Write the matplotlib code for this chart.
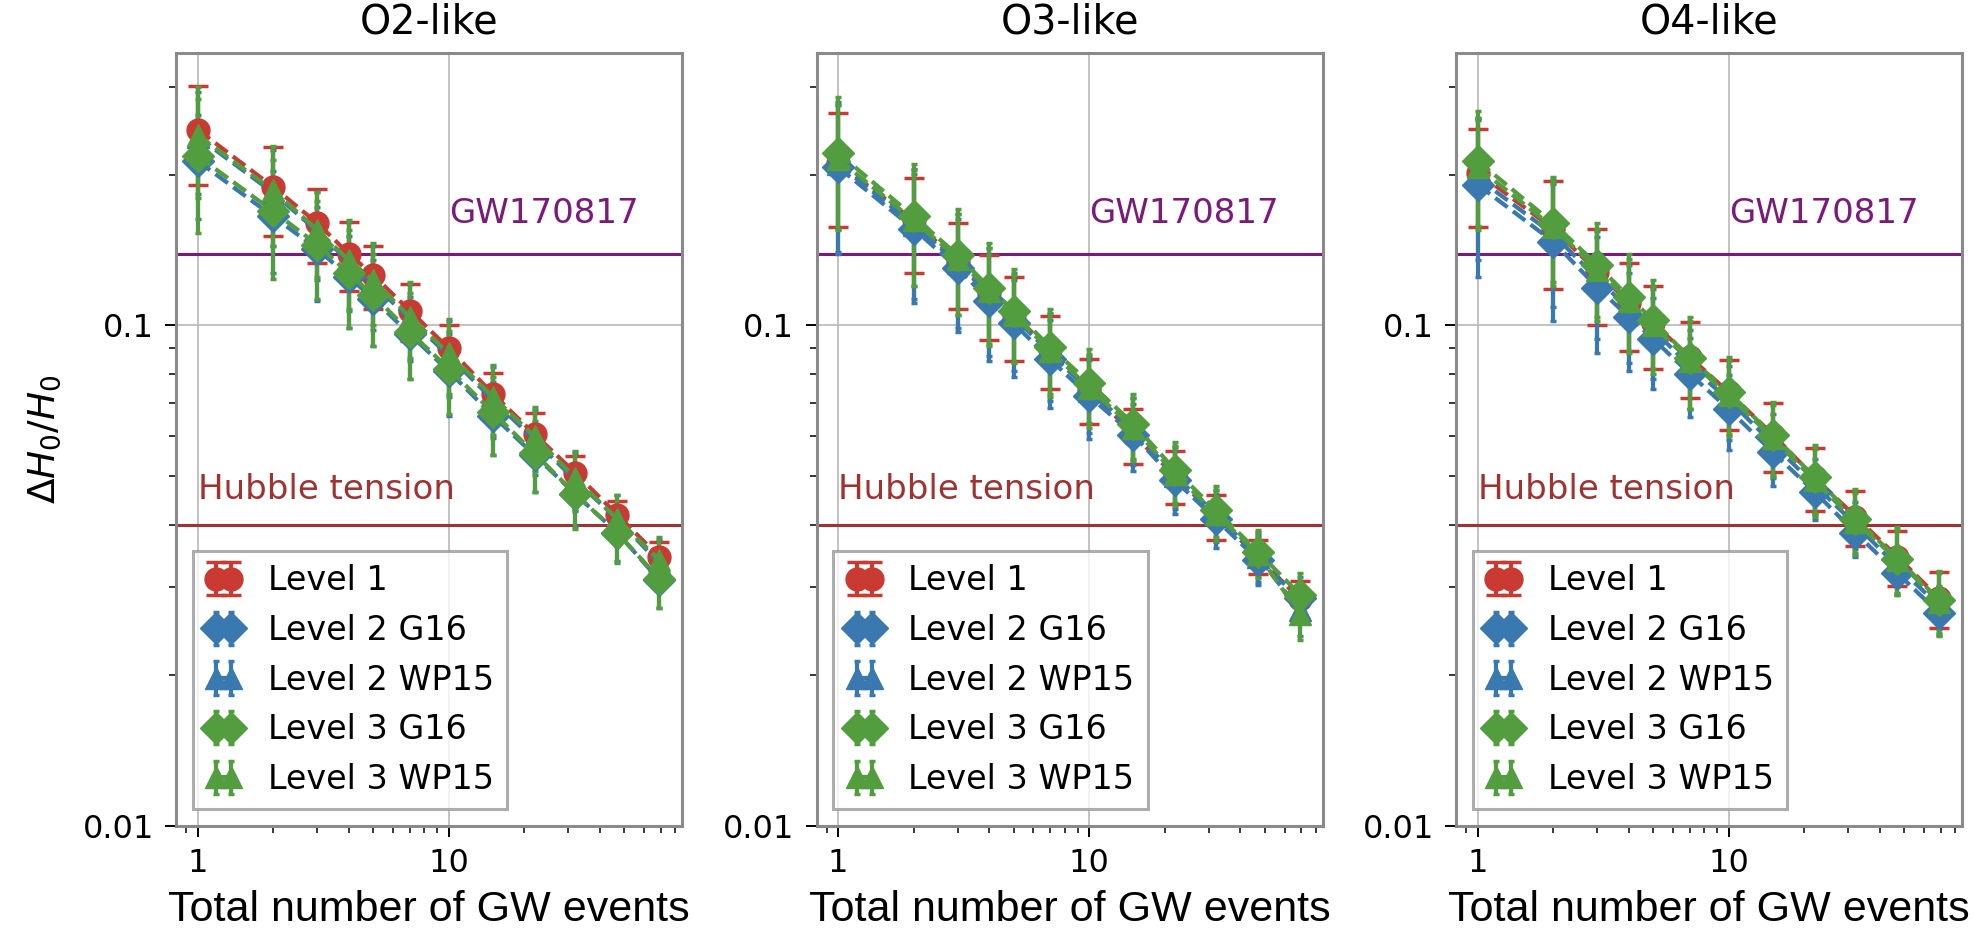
# H0 precision vs number of GW events, three observing-run scenarios
import matplotlib
matplotlib.use("Agg")
import matplotlib.pyplot as plt
from matplotlib.ticker import FormatStrFormatter, NullFormatter

# --- data ---
n_events = [1, 2, 3, 4, 5, 7, 10, 15, 22, 32, 47, 69]

# O2-like
o2_l1 = [0.246, 0.189, 0.160, 0.139, 0.126, 0.107, 0.090, 0.073, 0.0606, 0.0507, 0.0418, 0.0345]
o2_l2_g16 = [0.213, 0.165, 0.142, 0.125, 0.113, 0.096, 0.081, 0.066, 0.055, 0.046, 0.0385, 0.031]
o2_l2_wp15 = [0.238, 0.184, 0.154, 0.134, 0.121, 0.103, 0.087, 0.071, 0.059, 0.049, 0.041, 0.0335]
o2_l3_g16 = [0.218, 0.169, 0.145, 0.127, 0.115, 0.097, 0.082, 0.067, 0.0555, 0.046, 0.0385, 0.0312]
o2_l3_wp15 = [0.240, 0.186, 0.155, 0.135, 0.123, 0.104, 0.088, 0.072, 0.060, 0.0495, 0.041, 0.034]
o2_l1_err = [0.055, 0.038, 0.027, 0.022, 0.018, 0.014, 0.010, 0.0075, 0.0062, 0.0042, 0.0027, 0.0024]
o2_l2_g16_err = [0.050, 0.038, 0.030, 0.026, 0.022, 0.018, 0.015, 0.011, 0.0085, 0.0063, 0.0047, 0.0037]
o2_l2_wp15_err = [0.055, 0.040, 0.031, 0.027, 0.023, 0.018, 0.015, 0.0115, 0.0088, 0.0065, 0.0048, 0.0038]
o2_l3_g16_err = [0.065, 0.045, 0.032, 0.028, 0.024, 0.019, 0.0155, 0.012, 0.009, 0.0068, 0.005, 0.004]
o2_l3_wp15_err = [0.060, 0.042, 0.030, 0.027, 0.023, 0.018, 0.015, 0.0115, 0.0088, 0.0065, 0.0048, 0.0038]

# O3-like
o3_l1 = [0.211, 0.162, 0.134, 0.116, 0.105, 0.0895, 0.0745, 0.0605, 0.050, 0.0415, 0.0345, 0.0284]
o3_l2_g16 = [0.207, 0.156, 0.130, 0.112, 0.101, 0.0855, 0.0722, 0.0605, 0.049, 0.041, 0.034, 0.0285]
o3_l2_wp15 = [0.210, 0.159, 0.133, 0.115, 0.104, 0.088, 0.074, 0.062, 0.050, 0.042, 0.0345, 0.027]
o3_l3_g16 = [0.221, 0.165, 0.138, 0.119, 0.107, 0.0905, 0.0768, 0.0636, 0.0514, 0.0427, 0.0353, 0.029]
o3_l3_wp15 = [0.215, 0.162, 0.136, 0.117, 0.105, 0.089, 0.075, 0.0625, 0.0505, 0.042, 0.035, 0.0265]
o3_l1_err = [0.054, 0.035, 0.026, 0.0225, 0.020, 0.015, 0.011, 0.0077, 0.006, 0.0043, 0.0027, 0.0025]
o3_l2_g16_err = [0.068, 0.045, 0.033, 0.027, 0.022, 0.017, 0.013, 0.0093, 0.007, 0.005, 0.0037, 0.003]
o3_l2_wp15_err = [0.070, 0.046, 0.034, 0.028, 0.023, 0.0175, 0.013, 0.0095, 0.0071, 0.005, 0.0038, 0.003]
o3_l3_g16_err = [0.065, 0.045, 0.033, 0.027, 0.0225, 0.0175, 0.013, 0.0095, 0.0072, 0.005, 0.0038, 0.003]
o3_l3_wp15_err = [0.060, 0.042, 0.031, 0.026, 0.021, 0.017, 0.0125, 0.009, 0.007, 0.0049, 0.0037, 0.003]

# O4-like
o4_l1 = [0.202, 0.156, 0.128, 0.111, 0.101, 0.0865, 0.0735, 0.0605, 0.0497, 0.0415, 0.0345, 0.0285]
o4_l2_g16 = [0.191, 0.147, 0.119, 0.104, 0.094, 0.080, 0.068, 0.0558, 0.0465, 0.0385, 0.032, 0.0266]
o4_l2_wp15 = [0.197, 0.152, 0.124, 0.108, 0.098, 0.083, 0.071, 0.058, 0.048, 0.040, 0.033, 0.0275]
o4_l3_g16 = [0.213, 0.160, 0.132, 0.114, 0.1025, 0.086, 0.0735, 0.0603, 0.0498, 0.0411, 0.0342, 0.0283]
o4_l3_wp15 = [0.207, 0.157, 0.129, 0.112, 0.100, 0.085, 0.0725, 0.0595, 0.049, 0.0405, 0.034, 0.028]
o4_l1_err = [0.045, 0.038, 0.028, 0.022, 0.019, 0.015, 0.0116, 0.0095, 0.0071, 0.0052, 0.0044, 0.0036]
o4_l2_g16_err = [0.066, 0.045, 0.031, 0.023, 0.0194, 0.0145, 0.0115, 0.008, 0.0057, 0.004, 0.0028, 0.0025]
o4_l2_wp15_err = [0.062, 0.043, 0.030, 0.024, 0.020, 0.015, 0.012, 0.0085, 0.006, 0.0043, 0.003, 0.0027]
o4_l3_g16_err = [0.055, 0.038, 0.028, 0.025, 0.0205, 0.018, 0.0128, 0.010, 0.0078, 0.006, 0.0053, 0.004]
o4_l3_wp15_err = [0.052, 0.037, 0.027, 0.024, 0.020, 0.017, 0.0125, 0.0098, 0.0076, 0.0058, 0.005, 0.004]

panel_titles = ["O2-like", "O3-like", "O4-like"]
series_labels = ["Level 1", "Level 2 G16", "Level 2 WP15", "Level 3 G16", "Level 3 WP15"]
gw170817_level = 0.139
hubble_tension_level = 0.040

panels = [
    [(o2_l1, o2_l1_err), (o2_l2_g16, o2_l2_g16_err), (o2_l2_wp15, o2_l2_wp15_err),
     (o2_l3_g16, o2_l3_g16_err), (o2_l3_wp15, o2_l3_wp15_err)],
    [(o3_l1, o3_l1_err), (o3_l2_g16, o3_l2_g16_err), (o3_l2_wp15, o3_l2_wp15_err),
     (o3_l3_g16, o3_l3_g16_err), (o3_l3_wp15, o3_l3_wp15_err)],
    [(o4_l1, o4_l1_err), (o4_l2_g16, o4_l2_g16_err), (o4_l2_wp15, o4_l2_wp15_err),
     (o4_l3_g16, o4_l3_g16_err), (o4_l3_wp15, o4_l3_wp15_err)],
]

# --- style ---
colors = ['#c83a32', '#3a78b0', '#3a78b0', '#529d3d', '#529d3d']
markers = ['o', 'D', '^', 'D', '^']
capsizes = [7, 2.5, 2.5, 2.5, 2.5]

W, H = 1976, 948
fig = plt.figure(figsize=(W / 100, H / 100), dpi=100)
lefts = [176, 816.5, 1456]

for i, (title, series) in enumerate(zip(panel_titles, panels)):
    ax = fig.add_axes([lefts[i] / W, 1 - 826 / H, 506 / W, 773 / H])
    ax.set_xscale('log')
    ax.set_yscale('log')

    ax.axhline(gw170817_level, color='#7b1a7b', lw=2.2)
    ax.axhline(hubble_tension_level, color='#a03232', lw=2.2)
    ax.text(10, 0.160, 'GW170817', color='#7b1a7b', fontsize=24.5, va='baseline')
    ax.text(1.0, 0.0451, 'Hubble tension', color='#a03232', fontsize=24.5, va='baseline')

    for (vals, errs), lab, c, m, cs in zip(series, series_labels, colors, markers, capsizes):
        eb = ax.errorbar(n_events, vals, yerr=errs, color=c, marker=m, ms=16.5,
                         linestyle='--', lw=3, elinewidth=3, capsize=cs, capthick=2.5,
                         label=lab)
        for col in eb[2]:
            col.set_linestyle('solid')

    ax.set_xlim(0.82, 85)
    ax.set_ylim(0.01, 0.35)
    ax.yaxis.set_major_formatter(FormatStrFormatter('%g'))
    ax.yaxis.set_minor_formatter(NullFormatter())
    ax.xaxis.set_major_formatter(FormatStrFormatter('%g'))
    ax.xaxis.set_minor_formatter(NullFormatter())
    ax.tick_params(which='major', labelsize=23, length=8, width=1.4, pad=8)
    ax.tick_params(which='minor', length=5, width=1.1)

    ax.grid(True, which='major', color='#b8b8b8', lw=1.2)
    for sp in ax.spines.values():
        sp.set_color('#8a8a8a')
        sp.set_linewidth(2.2)

    ax.set_title(title, fontsize=28.5, pad=14)
    ax.set_xlabel('Total number of GW events', fontsize=31,
                  family=['Liberation Sans', 'DejaVu Sans'], labelpad=8)
    if i == 0:
        ax.set_ylabel(r'$\Delta H_0/H_0$', fontsize=27, labelpad=14)

    leg = ax.legend(loc='lower left', numpoints=2, handlelength=1.05, fontsize=24,
                    labelspacing=0.5, fancybox=False, edgecolor='#999999',
                    framealpha=0.8)
    leg.get_frame().set_linewidth(2.2)

fig.savefig('out.png', dpi=100)
